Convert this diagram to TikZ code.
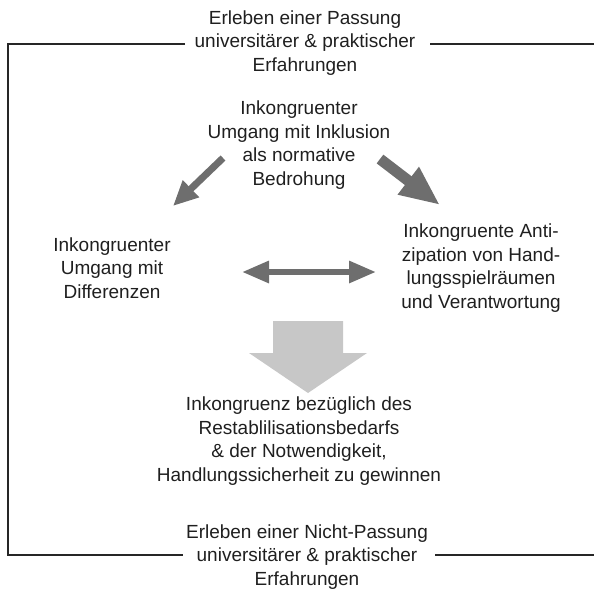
\documentclass[tikz,border=0pt]{standalone}
\usepackage{fontspec}
\setmainfont{Liberation Sans}
\usetikzlibrary{arrows.meta}

\begin{document}
\begin{tikzpicture}[x=1pt,y=-1pt,
    txt/.style={align=center,font=\fontsize{19}{23.5}\selectfont,text=black!88},
    pfeil/.style={draw=black!57,line width=#1},
    rahmen/.style={draw=black!85,line width=1.2pt}]
        \useasboundingbox (0,0) rectangle (594,592);
        % Texte
        \node[txt] (passung) at (305,43) {Erleben einer Passung\\universitärer \& praktischer\\Erfahrungen};
        \node[txt] (inklusion) at (299,145) {Inkongruenter\\Umgang mit Inklusion\\als normative\\Bedrohung};
        \node[txt] (differenz) at (112,268) {Inkongruenter\\Umgang mit\\Differenzen};
        \node[txt] (spielraum) at (481,268) {Inkongruente Anti-\\zipation von Hand-\\lungsspielräumen\\und Verantwortung};
        \node[txt] (bedarf) at (299,441) {Inkongruenz bezüglich des\\Restablilisationsbedarfs\\\& der Notwendigkeit,\\Handlungssicherheit zu gewinnen};
        \node[txt] (nichtpassung) at (307,557) {Erleben einer Nicht-Passung\\universitärer \& praktischer\\Erfahrungen};
        % Rahmen
        \draw[rahmen](185,44)--(8,44)--(8,555)--(183,555);
        \draw[rahmen](430,44)--(594,44);
        \draw[rahmen](435,555)--(594,555);
        % Pfeile
        \coordinate (links) at (223,158);
        \coordinate (linksspitze) at (173,206);
        \coordinate (rechts) at (380,159);
        \coordinate (rechtsspitze) at (440,205);
        \coordinate (mitte1) at (242,272);
        \coordinate (mitte2) at (376,272);
        \draw[pfeil=7pt,-{Triangle[length=25pt,width=22pt]}](links)--(linksspitze);
        \draw[pfeil=11pt,-{Triangle[length=40pt,width=32pt]}](rechts)--(rechtsspitze);
        \draw[pfeil=6pt,{Triangle[length=27pt,width=21pt]}-{Triangle[length=27pt,width=21pt]}](mitte1)--(mitte2);
        \fill[black!22](273,321)--(343,321)--(343,353)--(367,353)--(308,393)--(249,353)--(273,353)--cycle;
      \end{tikzpicture}
\end{document}
